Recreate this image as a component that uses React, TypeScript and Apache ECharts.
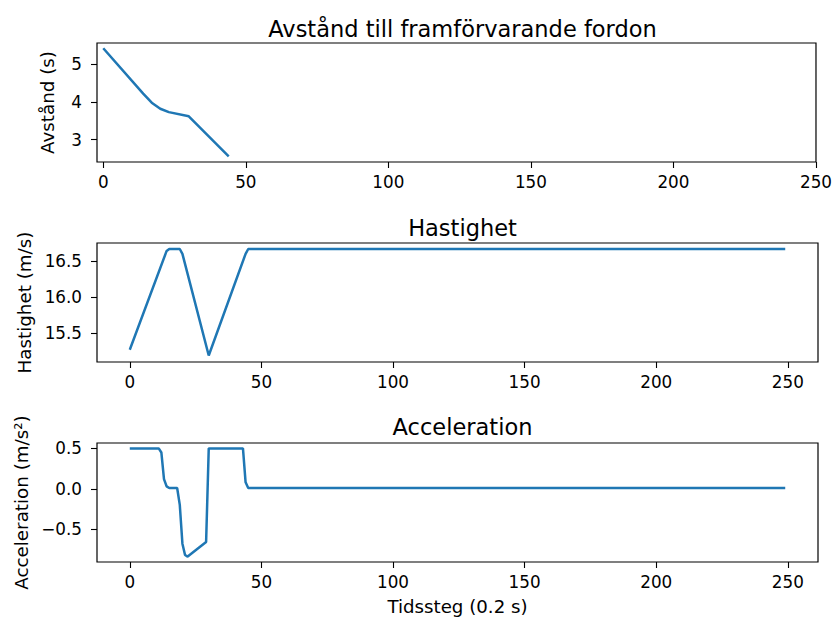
import React, { useEffect, useRef } from "react";
import * as echarts from "echarts";

// Avstånd till framförvarande fordon (s) vs tidssteg
const distX = [0, 14, 17, 20, 23, 30, 44];
const distY = [5.42, 4.22, 3.98, 3.82, 3.73, 3.62, 2.56];

// Hastighet (m/s)
const velX = [0, 14, 15, 19, 20, 30, 44, 45, 249];
const velY = [15.27, 16.64, 16.667, 16.667, 16.6, 15.19, 16.6, 16.667, 16.667];

// Acceleration (m/s²)
const accX = [0, 11, 12, 13, 14, 15, 18, 19, 20, 21, 22, 29, 30, 43, 44, 45, 249];
const accY = [0.5, 0.5, 0.45, 0.12, 0.03, 0.01, 0.01, -0.2, -0.68, -0.82, -0.84, -0.66, 0.5, 0.5, 0.08, 0.01, 0.01];

const xTicks = [0, 50, 100, 150, 200, 250];
const distTicks = [3, 4, 5];
const velTicks = [15.5, 16.0, 16.5];
const accTicks = [-0.5, 0.0, 0.5];

const titles = ["Avstånd till framförvarande fordon", "Hastighet", "Acceleration"];
const yNames = ["Avstånd (s)", "Hastighet (m/s)", "Acceleration (m/s²)"];
const xName = "Tidssteg (0.2 s)";

const FONT = "DejaVu Sans";
const zip = (xs: number[], ys: number[]) => xs.map((x, i) => [x, ys[i]]);

export default function App() {
  const ref = useRef<HTMLDivElement>(null);
  useEffect(() => {
    if (!ref.current) return;
    const chart = echarts.init(ref.current, undefined, { renderer: "svg" });
    const gridTops = [43, 243, 443];
    const tickLabel = { fontSize: 16.8, color: "#000", fontFamily: FONT };
    const fmt = (v: number) => {
      const s = v.toFixed(1);
      return s.replace("-", "\u2212");
    };
    const xAxis = (i: number, min: number, max: number) => ({
      type: "value",
      gridIndex: i,
      min,
      max,
      position: "bottom",
      axisLine: { show: false, onZero: false },
      splitLine: { show: false },
      axisTick: { show: true, customValues: xTicks, length: 6, lineStyle: { color: "#000", width: 1.1 } },
      axisLabel: { customValues: xTicks, margin: 11, ...tickLabel },
      ...(i === 2
        ? {
            name: xName,
            nameLocation: "middle",
            nameGap: 35,
            nameTextStyle: { fontSize: 18.2, color: "#000", fontFamily: FONT },
          }
        : {}),
    });
    const yAxis = (i: number, min: number, max: number, ticks: number[], gap: number, f?: (v: number) => string) => ({
      type: "value",
      gridIndex: i,
      min,
      max,
      position: "left",
      axisLine: { show: false, onZero: false },
      splitLine: { show: false },
      axisTick: { show: true, customValues: ticks, length: 6, lineStyle: { color: "#000", width: 1.1 } },
      axisLabel: { customValues: ticks, margin: 15, formatter: f, ...tickLabel },
      name: yNames[i],
      nameLocation: "middle",
      nameRotate: 90,
      nameGap: gap,
      nameTextStyle: { fontSize: 18.3, color: "#000", fontFamily: FONT },
    });
    const line = (i: number, data: number[][]) => ({
      type: "line",
      xAxisIndex: i,
      yAxisIndex: i,
      data,
      showSymbol: false,
      symbol: "none",
      lineStyle: { color: "#1f77b4", width: 2.5 },
      itemStyle: { color: "#1f77b4" },
    });
    chart.setOption({
      animation: false,
      backgroundColor: "#fff",
      textStyle: { fontFamily: FONT },
      title: titles.map((t, i) => ({
        text: t,
        left: 457.5,
        top: [12, 211, 410][i],
        textAlign: "center",
        textStyle: { fontSize: 22.5, fontWeight: "normal", color: "#000", fontFamily: FONT },
      })),
      grid: gridTops.map((top) => ({
        left: 97,
        top,
        width: 721,
        height: 119,
        show: true,
        borderColor: "#000",
        borderWidth: 1.2,
        backgroundColor: "transparent",
        containLabel: false,
      })),
      xAxis: [xAxis(0, -2.2, 250), xAxis(1, -12.45, 261.45), xAxis(2, -12.45, 261.45)],
      yAxis: [
        yAxis(0, 2.41, 5.56, distTicks, 41, (v: number) => String(v)),
        yAxis(1, 15.1, 16.75, velTicks, 62, fmt),
        yAxis(2, -0.907, 0.567, accTicks, 67, fmt),
      ],
      series: [line(0, zip(distX, distY)), line(1, zip(velX, velY)), line(2, zip(accX, accY))],
    });
    return () => chart.dispose();
  }, []);
  return (
    <div
      ref={ref}
      style={{ position: "absolute", left: 0, top: 0, width: 835, height: 619 }}
    />
  );
}
